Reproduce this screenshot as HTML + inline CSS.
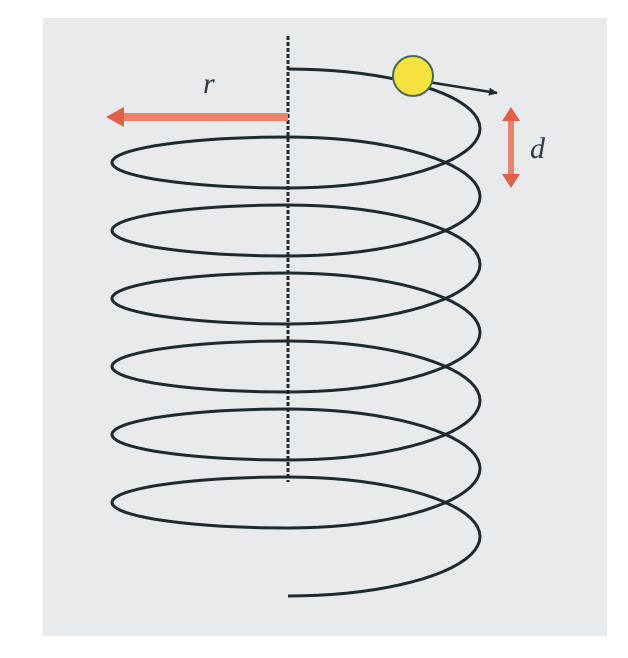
<!DOCTYPE html>
<html><head><meta charset="utf-8"><style>
html,body{margin:0;padding:0;background:#fff;width:628px;height:658px;overflow:hidden}
svg{display:block}
</style></head><body>
<svg id="fig" width="628" height="658" viewBox="0 0 628 658" xmlns="http://www.w3.org/2000/svg">
  <defs>
    <marker id="blk" markerWidth="10" markerHeight="10" refX="8" refY="5" orient="auto" markerUnits="userSpaceOnUse">
      <path d="M0,1 L9,5 L0,9 Z" fill="#1e2a30"/>
    </marker>
  </defs>
  <rect x="43" y="18" width="564" height="618" fill="#e9eaec"/>
  <line x1="288" y1="36" x2="288" y2="482" stroke="#1e2a30" stroke-width="3" stroke-dasharray="4,2"/>
  <path id="helix" fill="none" stroke="#1e2a30" stroke-width="3"/>
  <g>
    <rect x="120" y="113" width="168" height="8" fill="#e8836a"/>
    <path d="M106,117 L124,107 L124,127 Z" fill="#e0604a"/>
  </g>
  <text x="203" y="93" font-family="Liberation Serif, serif" font-style="italic" font-size="30" fill="#2a3a48">r</text>
  <g>
    <rect x="508" y="118" width="6" height="60" fill="#e8836a"/>
    <path d="M511,107 L502,121 L520,121 Z" fill="#e0604a"/>
    <path d="M511,188 L502,174 L520,174 Z" fill="#e0604a"/>
  </g>
  <text x="530" y="158" font-family="Liberation Serif, serif" font-style="italic" font-size="30" fill="#2a3a48">d</text>
  <line x1="428" y1="82" x2="497" y2="93" stroke="#1e2a30" stroke-width="2.5" marker-end="url(#blk)"/>
  <circle cx="413" cy="76" r="20" fill="#f5e23c" stroke="#4a6a50" stroke-width="2"/>
</svg>
<script>
const turns = [0,1,2,3,4,5,6];
const cx = 288, rightR = 192, leftR = 176, firstTop = 69, pitch = 68, rightSpan = 59.5, leftSpan = 25.5;
let d = '';
turns.forEach((k) => {
  const ytop = firstTop + k * pitch;
  for (let i = 0; i <= 40; i++) {
    const t = Math.PI * i / 40;
    const x = cx + rightR * Math.sin(t);
    const y = ytop + rightSpan * (1 - Math.cos(t));
    d += (d === '' ? 'M' : 'L') + x.toFixed(1) + ',' + y.toFixed(1) + ' ';
  }
  if (k < turns.length - 1) {
    const ybot = ytop + 2 * rightSpan;
    for (let i = 1; i <= 40; i++) {
      const t = Math.PI * i / 40;
      const x = cx - leftR * Math.sin(t);
      const y = ybot - leftSpan * (1 - Math.cos(t));
      d += 'L' + x.toFixed(1) + ',' + y.toFixed(1) + ' ';
    }
  }
});
document.getElementById('helix').setAttribute('d', d);
</script>
</body></html>
